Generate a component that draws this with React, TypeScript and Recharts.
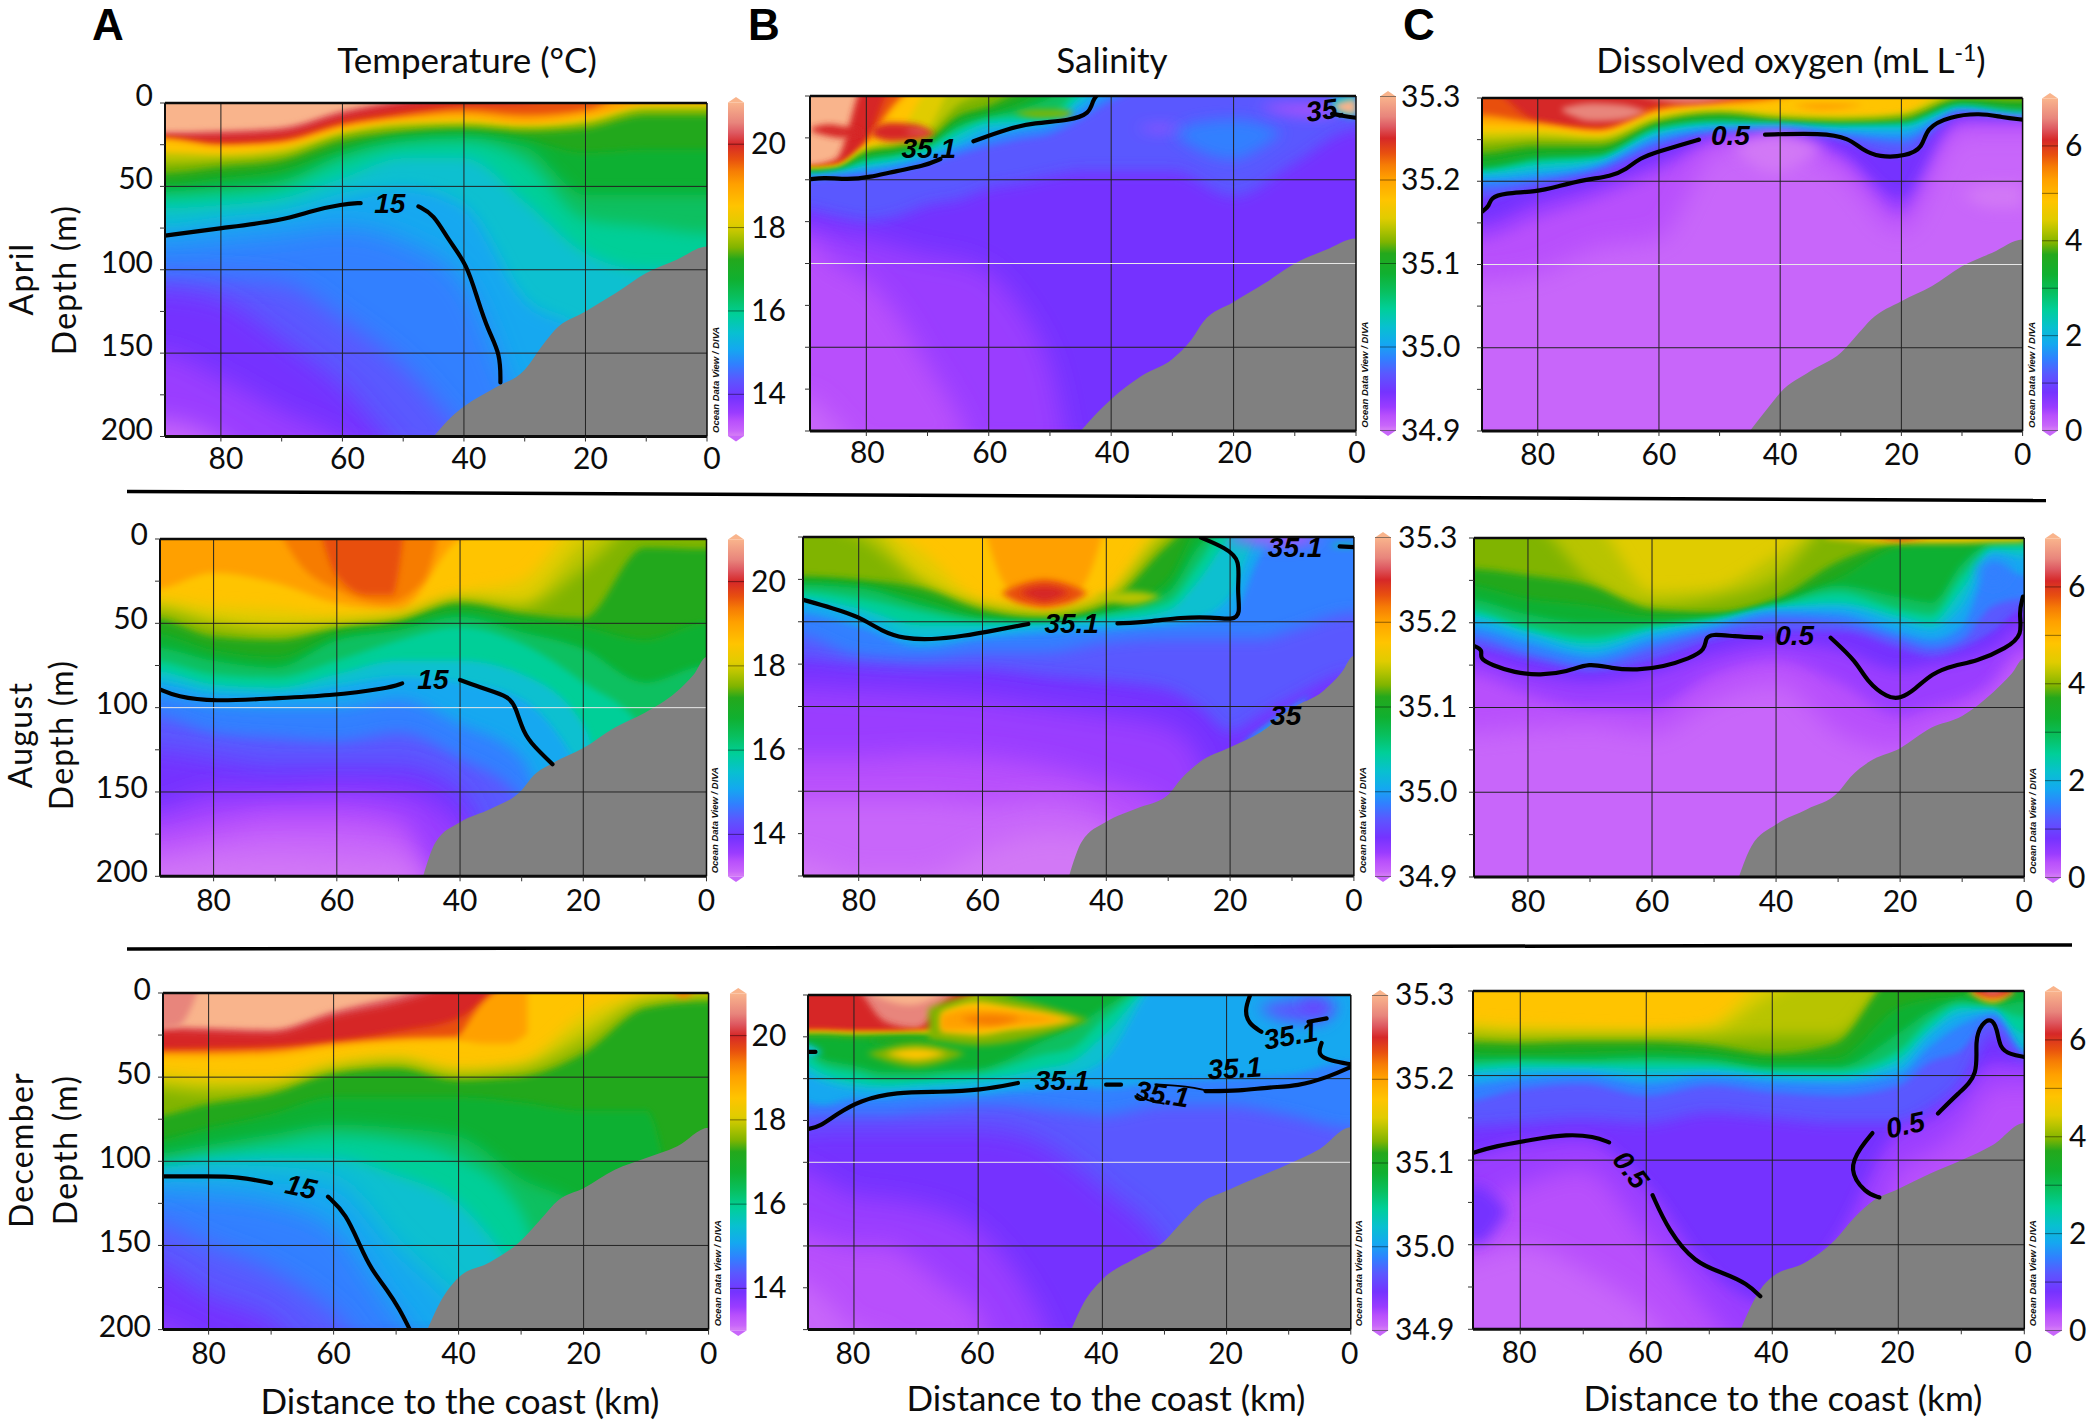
import React from "react";
import { ComposedChart, Area, Line, XAxis, YAxis, ReferenceLine, ReferenceDot } from "recharts";

// ---------- colour scale (shared Ocean Data View palette, warm to cold) ----------
const palette = ["#f9b48c","#e8857c","#de5a62","#d62828","#e8500f","#f67c05","#ffa000","#ffc400","#e0cc00","#b8c400","#80b400","#24a81c","#10b030","#08c060","#00cf98","#08c0d0","#14a8f0","#3080ff","#5a58ff","#7533ff","#9a3cff","#b850fc","#c866fa","#d278f6"];
const barStops = [0,.06,.09,.125,.17,.205,.245,.31,.365,.395,.435,.47,.53,.585,.635,.69,.74,.785,.83,.885,.93,.955,.985,.995];

const km10 = [90,80,70,60,50,40,30,20,10,0];
const km12 = [90,80,70,60,50,40,30,20,15,10,5,0];
const km12b = [90,80,70,60,50,40,30,25,20,15,10,0];
const km15 = [90,85,80,75,70,65,60,55,50,45,40,30,20,10,0];
const xTicks = [80,70,60,50,40,30,20,10,0];
const yTicks = [0,25,50,75,100,125,150,175,200];
const gridKm = [80,60,40,20];
const gridDepth = [50,100,150];

// ---------- isoline depths: [palette index, depth at each distance] ----------
const aprTemp = [
[2,18,17,15,5,-2,-9,-9,-9,-9,-9],[3,19.5,19,17,7,0,-5,-9,-9,-9,-9],[4,21,24.5,22,12,6,1.5,0,-9,-9,-9],
[6,21.5,25.5,23.5,13.5,8,4.5,7,4,-9,-9],[7,22.5,26.5,25,15.5,10.5,8.5,12,8,1,0],[9,30,31,28,18,12.5,11.5,14,11,2.5,2],
[10,36,34.5,31.5,19.5,14.5,13.5,15.5,13,4.5,4.5],[11,42,38.5,34.5,22.5,17.5,15.5,17.5,15.5,7.5,7.5],[12,49,45,40,28,20,18.5,22,30,28,28],
[13,53,50,46,31,23,21,26,55,55,55],[14,56,54,50,34,25,23,35,70,74,78],[15,63,61,57,45,33,33,59,90,100,100],
[16,75,71,67,57,51,62,118,140,230,230],[17,85,82,79,75,83,108,190,230,230,230],[18,104,105,108,130,158,198,230,230,230,230],
[19,112,118,142,170,210,230,230,230,230,230],[20,150,165,185,202,230,230,230,230,230,230],[22,190,202,230,230,230,230,230,230,230,230]];
const augTemp = [
[7,30,20,26,38,42,0,-9,-9,-9,-9],
[8,36,40,42,46,46,32,25,-9,-9,-9],[9,40,48,52,50,47,36,38,3,-9,-9],[10,43,52,56,53,48,37,41,18,-9,-9],
[11,47,58,60,53,49,38,44,47,5,6],[12,56,66,70,56,51,42,48,52,60,50],[13,64,72,76,60,54,46,55,65,85,75],
[14,72,80,82,72,60,52,62,85,115,230],[15,78,86,88,80,72,72,80,110,230,230],[16,84,91,92,87,82,85,95,140,230,230],
[17,92,98,100,100,95,110,130,230,230,230],[18,105,115,118,120,115,130,155,230,230,230],[19,125,130,135,135,135,150,230,230,230,230],
[20,160,150,150,148,150,170,230,230,230,230],[21,172,165,160,160,165,230,230,230,230,230],[22,185,178,172,172,178,230,230,230,230,230],[23,195,190,188,190,192,230,230,230,230,230]];
const decTemp = [
[2,20,21,22,11,2,-9,-9,-9,-9,-9],[3,22,23,24,14,6,-5,-9,-9,-9,-9],[4,34,33,32,29,23,15,-9,-9,-9,-9],
[6,35,35,34,30,27,26,-9,-9,-9,-9],[7,38,38,37,32,29,28,-2,-9,-9,-5],[8,47,50,52,42,38,45,42,12,2,0],
[9,52,55,55,45,41,48,44,22,4,1.5],[10,57,60,57,47,43,50,47,30,6,3],[11,74,66,60,48,45,52,50,36,9,5],
[12,88,80,72,62,62,62,65,70,70,230],[13,96,90,84,78,80,85,110,130,230,230],[14,102,96,90,85,88,98,130,230,230,230],
[15,105,100,98,98,108,125,170,230,230,230],[16,108,107,108,112,150,185,230,230,230,230],[17,118,120,125,140,190,230,230,230,230,230],
[18,135,150,165,190,230,230,230,230,230,230],[19,160,180,195,230,230,230,230,230,230,230],[20,195,210,230,230,230,230,230,230,230,230]];
const aprSal = [
[3,42,38,-9,-9,-9,-9,-9,-9,-9,-9,-9,-9,-9,-9,-9],[4,43,41,27,-9,-9,-9,-9,-9,-9,-9,-9,-9,-9,-9,-9],
[6,43.5,42,28,3,-9,-9,-9,-9,-9,-9,-9,-9,-9,-9,-9],[7,44,42.5,30,6,-9,-9,-9,-9,-9,-9,-9,-9,-9,-9,-9],
[8,44,43,31,24,-3,-9,-9,-9,-9,-9,-9,-9,-9,-9,-9],[9,44.5,43.5,32,28,20,-9,-9,-9,-9,-9,-9,-9,-9,-9,-9],
[10,45,44,33,30,24,5,-2,-9,-9,-9,-9,-9,-9,-9,-9],[11,45.5,44.5,34,31,27,12,6,-3,-9,-9,-9,-9,-9,-9,-9],
[12,46,45,36,33,29,15,10,4,-5,-9,-9,-9,-9,-9,-9],[13,46.5,45,38,35,30,18,12,8,1,-9,-9,-9,-9,-9,-9],
[14,47,45.5,39,36,31,20,14,12,11,-5,-9,-9,-9,-9,-9],[15,47.5,46,41,38,33,23,16,15,15,0,-9,-9,-9,-9,-9],
[16,48,46.5,43,40,35,28,20,18,16,4,-9,-9,-9,-9,-9],[17,48.5,47,45,42,37,31,25,21,18,9,-2,-9,-9,-9,-9],
[18,50,49,47,45,40,35,30,26,23,14,3,-9,-9,-9,-9],[19,68,72,75,72,65,62,55,52,48,45,45,45,60,40,20],
[20,78,82,85,90,95,98,105,125,160,230,230,230,230,230,230],[21,85,100,110,130,160,190,230,230,230,230,230,230,230,230,230],
[22,180,195,215,230,230,230,230,230,230,230,230,230,230,230,230]];
const augSal = [
[8,-9,-9,8,39,44,36,-9,-9,-9,-9,-9,-9],[9,-9,-9,24,41,45,37,-3,-9,-9,-9,-9,-9],
[10,-9,0,28,42,46,38,0,-9,-9,-9,-9,-9],[11,23,25,30,43,48,40,5,-9,-9,-9,-9,-9],[12,26,28,36,47,50,44,25,-5,-9,-9,-9,-9],
[13,28,30,40,48,50,45,32,5,-9,-9,-9,-9],[14,32,36,44,50,51,46,38,15,-9,-9,-9,-9],[15,36,42,52,52,52,49,43,25,0,-9,-9,-9],
[16,38,47,60,56,53,51,49,47,35,-3,-9,-9],[17,45,53,65,60,57,55,52,50,48,10,-5,-9],[18,58,70,72,68,68,62,60,60,60,60,55,45],
[19,72,76,78,78,82,85,90,100,115,105,95,80],[20,88,90,92,95,100,105,112,130,230,230,230,230],[21,130,130,128,130,135,145,160,230,230,230,230,230],
[22,155,155,155,158,155,165,230,230,230,230,230,230],[23,190,200,200,185,175,180,230,230,230,230,230,230]];
const decSal = [
[3,-9,-9,-5,16,20,3,-9,-9,-9,-9,-9,-9,-9,-9,-9],[4,21,21,22,22,21.5,17,-9,-9,-9,-9,-9,-9,-9,-9,-9],
[6,22,22,22.5,22.5,22,19,-2,-9,-9,-9,-9,-9,-9,-9,-9],[7,22.5,22.5,23,23,22.5,21,0,-9,-9,-9,-9,-9,-9,-9,-9],
[9,23.5,23.5,24,24,23.5,23,1,-9,-9,-9,-9,-9,-9,-9,-9],[10,24,24,24.5,24.5,24,24,3,-9,-9,-9,-9,-9,-9,-9,-9],
[11,24.5,24.5,25,25,25,25,6,1,-9,-9,-9,-9,-9,-9,-9],[12,25,25,26,26,26,26,8,3,-5,-9,-9,-9,-9,-9,-9],
[13,27,38,42,46,46,45,44,38,28,20,8,-9,-9,-9,-9],[14,30,42,46,50,50,48,47,42,36,32,15,-9,-9,-9,-9],
[15,38,47,52,54,53,52,50,48,44,40,25,-9,-9,-9,-9],[16,44,52,56,57,56,55,54,52,50,48,40,-9,-9,-9,-9],
[17,62,66,62,62,60,60,60,58,57,55,56,52,50,48,40],[18,72,72,72,72,70,68,66,66,68,70,72,66,66,72,80],
[19,82,80,80,80,80,80,80,82,88,100,115,150,230,230,230],[20,102,110,120,122,125,130,140,160,190,230,230,230,230,230,230],
[21,140,145,150,150,160,175,190,230,230,230,230,230,230,230,230],[22,170,180,200,205,230,230,230,230,230,230,230,230,230,230,230]];
const aprOxy = [
[4,-9,14,18,5,2,-9,-9,-9,-9,-9],[6,10,15,19.5,7,3,0,-9,-9,-9,-9],[7,15,17,21,9,5,1,-9,-9,-9,-9],
[8,20,20,23,10.5,7,9,11,9,-9,-9],[9,23,22,24.5,12,8,11,12,10,-5,-9],[10,27,25,26,13.5,9,12,13,11,-2,-9],
[11,33,29,29,15,10,14,15,13,1,2],[12,38,33,32,16.5,12,15,17,16,3,5],[14,43,37,35,18,14,15.5,16.5,15.5,4,8],
[15,45,40,37,20,16,16,17.5,17,6,9.5],[16,47,44,39,22,17,17,19,19,7,11],[17,50,47,41,24,19,18,21,23,8,12],
[18,54,50,43,27,21,20,23,27,9,13],[19,60,54,46,31,22.5,21.5,26,35,10.5,14],[20,75,62,52,38,25,24,33,60,14,15.5],
[21,85,72,60,45,27,25.5,38,70,17,17],[22,110,105,90,85,30,28,45,80,20,20]];
const augOxy = [
[9,-9,-9,-9,32,30,10,-9,-9,-9,-9,-9,-9],[10,-9,-9,25,40,36,24,-9,-9,-9,-9,-9,-9],[11,18,22,28,42,44,36,14,3,2,2,1,1],
[12,28,36,40,46,46,38,24,5,4,4,2,2],[13,36,45,50,50,47,39,28,35,38,15,3,3],[14,42,52,58,52,48,40,32,42,45,22,5,4],
[15,45,55,62,54,49,41,38,46,50,30,7,7],[16,48,57,66,56,50,42,41,50,54,40,9,12],[17,53,62,70,60,52,44,45,56,60,52,15,22],
[18,58,68,75,65,55,48,50,60,65,60,40,36],[19,64,72,79,72,60,55,55,65,70,65,55,42],[20,70,80,85,80,68,62,66,78,75,72,65,52],
[21,80,92,100,100,80,72,85,105,100,95,85,65],[22,115,112,110,115,95,85,115,125,115,110,100,75]];
const decOxy = [
[8,19,21,23,24,20,-9,-9,-9,-9,-9,-9,-9],[9,23,26,26,26,24,2,-9,-9,-9,-9,-9,-9],[10,27,28,28,28,28,26,26,-9,-9,-9,-9,-9],
[11,30,31,30,30,32,37,31,-9,-9,-9,-9,-9],[12,36,37,36,35,37,41,40,10,5,3,-9,-9],[13,40,40,40,39,40,45,45,25,12,5,9,6],
[14,44,42,43,42,43,47,47,35,17,8,10,15],[15,47,45,45,46,46,49,50,40,22,10,11,25],[16,50,48,47,50,48,51,52,45,26,14,12,34],
[17,56,52,50,55,51,54,55,50,33,20,14,37],[18,66,58,55,62,56,60,62,56,42,35,16,39],[19,80,78,76,78,72,75,78,78,70,55,25,41],
[20,98,90,87,115,165,185,148,82,75,62,42,44],[21,130,115,105,145,190,230,230,105,95,80,55,55],[22,160,150,165,190,230,230,230,230,230,230,230,230]];

// ---------- isolated patches: [palette index, distances, upper depths, lower depths] ----------
const augTempBlobs = [[5,[70,66,60,52,46,43],[-9,-9,-9,-9,-9,-9],[-9,15,30,38,25,-9]],[4,[63,60,55,51,49],[-9,-9,-9,-9,-9],[-9,22,33,33,-9]]];
const aprSalBlobs = [
[3,[89,86,84,81],[19,17,18,20],[21,24,25,23]],[3,[79,76,72,69],[19,16,17,22],[24,27,26,23]],[1,[74,71.5,69.5],[21,20.5,21],[21,22,21]],
[10,[56,52,48,46],[10,8,8,10],[10,13,13,10]],[17,[30,26,20,16,12],[22,16,14,16,22],[22,32,38,32,22]],[21,[36,32,28],[19,18,19],[19,21,19]],
[21,[16,12,6,3],[6,5,5,6],[6,10,12,9]],[15,[4,3,0],[1,0,-2],[7,11,13]],[0,[3.5,2,0],[5,3,2],[7,10,11]]];
const augSalBlobs = [
[6,[60,56,50,44,40],[-9,-9,-9,-9,-9],[-9,30,42,30,-9]],
[4,[57,54,50,46,43],[33,28,25,28,33],[33,39,41,39,33]],[3,[54,52,50,48,46],[33,30,29,30,33],[33,36,38,36,33]],
[9,[42,36,31],[35,32,35],[35,40,35]],[21,[21,16,10,5],[0,-3,-3,0],[0,4,5,0]],[14,[4,2,0],[5,4,4],[5,6,6]],[16,[18,13,9,7],[122,108,98,93],[122,116,102,93]]];
const decSalBlobs = [
[0,[77,71,66],[-3,-3,-3],[0,6,0]],[11,[78,72,66],[27,25,27],[27,30,27]],[10,[78,70,62],[35,29,35],[35,43,35]],[7,[75,70,65],[35,32,35],[35,39,35]],
[10,[68,60,52,42],[8,0,4,15],[26,30,26,15]],[7,[66,60,55,50,44],[10,4,7,10,15],[22,24,21,19,15]],[6,[66,61,56,50,46],[12,8,9,12,15],[21,21,19,17,15]],[5,[63,58,53],[14,12,14],[14,18,14]],
[15,[90,88,85],[34,29,34],[34,38,34]],[18,[15,10,5,2],[8,3,3,7],[8,16,17,7]],[19,[9,6,3],[5,3,5],[5,9,5]]];
const decTempBlobs = [[1,[95,90,85,81],[-9,-9,-9,-9],[22,22,20,-9]],[6,[40,36,32,29],[27,5,-3,-3],[27,30,30,24]],[5,[6,4,2],[-3,-3,-3],[-3,3,-3]]];
const aprOxyBlobs = [[1,[76,71,66,62],[6,3,4,8],[8,14,13,8]],[1,[66,55,44],[-4,-4,-4],[-4,3,-4]],[6,[38,33,26],[4,3,4],[4,7,4]],[23,[48,41,33],[30,22,30],[30,45,30]],[23,[10,5,0],[58,52,52],[58,66,66]]];
const augOxyBlobs = [[7,[32,20,0],[-2,-2,-2],[0,3,2]],[3,[25,20,15],[-2,-2,-2],[-2,1,-2]],[17,[8,5,2],[18,14,18],[18,28,18]]];
const decOxyBlobs = [[7,[9,5,1.5],[0,-3,0],[0,7,0]],[3,[8,5,2],[-2,-3,-2],[1,4,1]],[1,[6.5,5,3.5],[-2,-3,-2],[0,1.5,0]],[19,[92,87,82],[130,115,130],[130,150,130]]];

// ---------- sea floor ----------
const floorA = [45,42,40,35,30,27,25,20,15,10,5,0];
const floorB = [46,44,40,35,30,28,25,20,15,10,5,2,0];
const floorC = [45,43,40,35,30,27,24,20,15,10,5,0];
const floorD = [45,42,40,35,30,27,24,20,15,10,5,0];
const aprTempFloor = [200,188,182,171,160,145,136,125,114,102,94,86];
const aprSalFloor = [200,188,181,167,157,146,135,123,112,100,92,85];
const aprOxyFloor = [200,186,177,164,153,141,133,122,113,101,93,85];
const augTempFloor = [200,180,168,160,149,140,133,124,112,103,91,80,70];
const augSalFloor = [200,180,168,160,152,143,133,124,115,101,91,80,70];
const augOxyFloor = [200,182,169,160,150,141,132,124,112,105,91,80,71];
const decTempFloor = [200,184,169,160,147,135,123,116,105,98,91,80];
const decSalFloor = [200,184,170,158,147,135,124,117,109,101,92,79];
const decOxyFloor = [200,177,169,161,147,134,124,117,108,100,91,78];

// ---------- contour segments: [distance, depth] ----------
const aprTempC = [[[89.2,79.6],[80,75],[70,70.6],[65,64.6],[60,60.6],[57,60]],[[47.5,62],[45,66.6],[42.5,82.6],[39.5,96.6],[37.7,118.6],[36,136.6],[34,150.6],[34,167.6]]];
const augTempC = [[[88.8,89],[86,93.5],[80,96.4],[70.6,94.5],[61.2,93],[51.7,88.5],[49.4,85.6]],[[40,83.6],[36,89],[32,93.5],[31,99.4],[29.7,115],[28,123],[25,133.6]]];
const decTempC = [[[87.3,109],[80,109],[75.4,109],[70,113]],[[60.9,121],[58,131],[55.7,151],[54,164],[51.4,176.6],[49.5,187.5],[47.8,200]]];
const aprSalC = [[[89,49.6],[87,48.6],[83,50],[79.5,48.6],[75,44.6],[70.7,42],[67.9,37.6]],[[62.5,27],[57,19.6],[52.6,16],[46.7,14.6],[43.5,10.6],[43,2.6],[42.4,0]],[[3.9,10.6],[2,12],[0,13]]];
const augSalC = [[[89,37],[84.2,42],[79.9,47],[76.3,55.6],[72.7,60],[68.3,60.6],[63.3,58.6],[57.5,54.7],[52.6,51.3]],[[38.2,51],[33,50],[28,47.4],[22.9,47.2],[19.6,49],[18.3,45.8],[18.9,31],[18.3,13.4],[20.7,6.5],[24.7,0.4]],[[2.3,5.5],[0,6]]];
const decSalC = [[[87.4,80],[85.6,79],[82.7,71],[79,63],[73.3,58],[66,58],[59.7,57],[53.6,52.6]],[[39.4,53.6],[37,53.6]],[[23.4,57.4],[18,57.4],[13,55],[8.6,54.6],[3.6,49],[0,43]],[[16.2,0],[17.1,9],[16.5,17],[14.4,22]],[[6.8,16],[3.9,14]],[[4.7,28.7],[5.4,36],[3.2,39.4],[0,41.4]],[[87.3,34],[86.2,34]]];
const decSalThin = [[[31.6,53.4],[26.2,54.6],[23.4,57]],[[34.5,59],[33,63],[30,65]]];
const aprOxyC = [[[89.1,68],[88,65],[87.8,60],[85.6,57],[80.2,56.4],[76.6,53],[72.2,49],[67.9,47],[65.4,43],[63.2,36],[59.9,32],[56.3,28],[53.4,25]],[[42.5,22],[33,21],[28.7,24],[26.5,31],[23.7,35.6],[19.3,35],[16.4,30],[16,18],[12,11],[7,9],[3.4,11.6],[0,13]]];
const augOxyC = [[[88.8,63.5],[87.2,66],[87.9,71],[85.8,75],[82.2,79.5],[78,81],[73.7,79],[70.1,73.5],[66.6,77],[62.4,78],[58.2,76],[53.9,71],[51.4,66],[51.4,59],[50.4,56.6],[46.8,58],[42.4,58.8]],[[31.2,58.8],[27,73],[25.5,84],[22,94.6],[19.9,94.6],[17.7,89.7],[14.9,79.8],[11.3,75],[7.8,73],[2.8,65],[0.2,57],[0.9,44.4],[0.2,34.6]]];
const decOxyC = [[[87.5,95.7],[84,91.7],[78,87.8],[72.5,84.6],[68.3,86],[65.9,89.5]],[[59,120.7],[56.5,141.4],[52.3,161],[47.5,167],[44,173],[41.9,180.5]],[[23,122],[25.2,119.7],[28,105.5],[25.9,92],[24.1,84]],[[13.7,72.4],[10.5,60.5],[7.2,49.7],[7.9,29],[6.7,19],[5.3,16],[4.3,22],[3.9,34],[2.2,37.5],[0,39]]];

// ---------- contour labels: [text, distance, depth, rotation] ----------
const aprTempL = [["15",52.2,60,0]];
const augTempL = [["15",44.4,83,0]];
const decTempL = [["15",65.2,115,12]];
const aprSalL = [["35.1",69.8,31,0],["35.",5,8,-8]];
const augSalL = [["35.1",45.6,51,0],["35.1",9.5,6,0],["35",11,105,0]];
const decSalL = [["35.1",46.5,51,0],["35.1",30.4,59,8],["35.1",18.7,43.6,-3],["35.1",9.7,24,-10]];
const aprOxyL = [["0.5",48.2,22,0]];
const augOxyL = [["0.5",37,57,0]];
const decOxyL = [["0.5",62.4,105.5,52],["0.5",18.9,79,-12]];

// ---------- panel and colour bar frames ----------
const tempTicks = [14,16,18,20];
const salTicks = [34.9,35,35.1,35.2,35.3];
const oxyTicks = [0,2,4,6];
const oxyMinor = [0,1,2,3,4,5,6];

const panels = [
 {box:[165,707,102.5,436],dom:89.2,km:km10,base:0,layers:aprTemp,blobs:[],fk:floorA,fd:aprTempFloor,cs:aprTempC,thin:[],ls:aprTempL,white:false,bar:[728,744,102.5,436],range:[13,21],ticks:tempTicks,minor:tempTicks,ldx:7,labels:true,bl:[13,17],wide:false,xdx:5,xdy:0,ydy:-1},
 {box:[810,1356,95.7,430.7],dom:89.2,km:km15,base:0,layers:aprSal,blobs:aprSalBlobs,fk:floorA,fd:aprSalFloor,cs:aprSalC,thin:[],ls:aprSalL,white:true,bar:[1380,1396,96,430],range:[34.9,35.3],ticks:salTicks,minor:salTicks,ldx:5,labels:false,bl:[19,20],wide:false,xdx:1,xdy:0,ydy:0},
 {box:[1482,2022.6,98,431],dom:89.2,km:km10,base:3,layers:aprOxy,blobs:aprOxyBlobs,fk:floorA,fd:aprOxyFloor,cs:aprOxyC,thin:[],ls:aprOxyL,white:true,bar:[2042,2058,98,430],range:[0,7],ticks:oxyTicks,minor:oxyMinor,ldx:7,labels:false,bl:[20,22],wide:false,xdx:0,xdy:2,ydy:0},
 {box:[159.5,706,539,876.3],dom:88.7,km:km10,base:6,layers:augTemp,blobs:augTempBlobs,fk:floorB,fd:augTempFloor,cs:augTempC,thin:[],ls:augTempL,white:true,bar:[727.6,743.6,539,876],range:[13,21],ticks:tempTicks,minor:tempTicks,ldx:7,labels:true,bl:[17,19],wide:true,xdx:0,xdy:3,ydy:2},
 {box:[802.8,1353.7,537.3,876.3],dom:89,km:km12b,base:7,layers:augSal,blobs:augSalBlobs,fk:floorB,fd:augSalFloor,cs:augSalC,thin:[],ls:augSalL,white:false,bar:[1375,1391,537,876],range:[34.9,35.3],ticks:salTicks,minor:salTicks,ldx:7,labels:false,bl:[18,20],wide:true,xdx:0,xdy:3,ydy:0},
 {box:[1473.8,2024,538,877],dom:88.7,km:km12,base:8,layers:augOxy,blobs:augOxyBlobs,fk:floorB,fd:augOxyFloor,cs:augOxyC,thin:[],ls:augOxyL,white:false,bar:[2045,2061,538,877],range:[0,7],ticks:oxyTicks,minor:oxyMinor,ldx:7,labels:false,bl:[20,22],wide:true,xdx:0,xdy:3,ydy:0},
 {box:[163.4,709,992.7,1329.3],dom:87.3,km:km10,base:0,layers:decTemp,blobs:decTempBlobs,fk:floorC,fd:decTempFloor,cs:decTempC,thin:[],ls:decTempL,white:false,bar:[729.5,746,993,1330],range:[13,21],ticks:tempTicks,minor:tempTicks,ldx:5,labels:true,bl:[13,16],wide:true,xdx:0,xdy:2,ydy:3},
 {box:[807.7,1350.5,994.7,1329.3],dom:87.4,km:km15,base:1,layers:decSal,blobs:decSalBlobs,fk:floorC,fd:decSalFloor,cs:decSalC,thin:decSalThin,ls:decSalL,white:true,bar:[1371.5,1387.6,995,1330],range:[34.9,35.3],ticks:salTicks,minor:salTicks,ldx:7,labels:false,bl:[18,19],wide:false,xdx:-1,xdy:2,ydy:0},
 {box:[1473,2024.3,991,1329.3],dom:87.5,km:km12,base:7,layers:decOxy,blobs:decOxyBlobs,fk:floorD,fd:decOxyFloor,cs:decOxyC,thin:[],ls:decOxyL,white:false,bar:[2045,2062,991,1330],range:[0,7],ticks:oxyTicks,minor:oxyMinor,ldx:7,labels:false,bl:[19,21],wide:true,xdx:-1,xdy:2,ydy:0},
];

const FONT = "Lato, 'Open Sans', sans-serif";
const ARIAL = "'Liberation Sans', Arial, sans-serif";
const INK = "#0c0c0c";
const YW = 110, TOPM = 30, RM = 26, XH = 60;

function Section({ p }: any) {
  const [l, r, t, b] = p.box;
  const w = r - l, h = b - t;
  const lastKm = p.km.length - 1;
  const blurFor = (idx: number) => idx >= p.bl[1] ? "url(#heavy)" : idx >= p.bl[0] ? "url(#medium)" : p.wide && idx >= 8 && idx <= 10 ? "url(#medium)" : "url(#soft)";
  const rows = (d: number[]) => [
    { km: 100, v: [d[0], 212] },
    ...p.km.map((k: number, i: number) => ({ km: k, v: [d[i], 212] })),
    { km: -10, v: [d[lastKm], 212] },
  ];
  const baseRows = [{ km: 100, v: [-20, 212] }, { km: -10, v: [-20, 212] }];
  const floorRows = [
    ...p.fk.map((k: number, i: number) => ({ km: k, v: [p.fd[i], 212] })),
    { km: -10, v: [p.fd[p.fd.length - 1], 212] },
  ];
  return (
    <div style={{ position: "absolute", left: l - YW, top: t - TOPM }}>
      <ComposedChart width={YW + w + RM} height={TOPM + h + XH} margin={{ top: TOPM, right: RM, left: 0, bottom: 0 }}>
        <XAxis type="number" dataKey="km" domain={[0, p.dom]} reversed allowDataOverflow ticks={xTicks} interval={0} height={XH}
          axisLine={{ stroke: INK, strokeWidth: 3 }} tickLine={{ stroke: "#333", strokeWidth: 1 }} tickSize={5}
          tick={(q: any) => q.payload.value % 20 === 0 ? (
            <text x={q.x + p.xdx} y={h + TOPM + 32 + p.xdy} textAnchor="middle" fontFamily={FONT} fontSize={30} fill={INK}>{q.payload.value}</text>
          ) : <g />} />
        <YAxis type="number" domain={[0, 200]} reversed allowDataOverflow ticks={yTicks} interval={0} width={YW}
          axisLine={{ stroke: INK, strokeWidth: 2 }} tickLine={{ stroke: "#333", strokeWidth: 1 }} tickSize={5}
          tick={(q: any) => p.labels && q.payload.value % 50 === 0 ? (
            <text x={YW - 12} y={q.y + 4 + p.ydy} textAnchor="end" fontFamily={FONT} fontSize={30} fill={INK}>{q.payload.value}</text>
          ) : <g />} />
        <Area data={baseRows} dataKey="v" type="linear" fill={palette[p.base]} fillOpacity={1} stroke="none" dot={false} activeDot={false} isAnimationActive={false} />
        {p.layers.map((row: number[], i: number) => (
          <Area key={"l" + i} data={rows(row.slice(1))} dataKey="v" type="monotone" fill={palette[row[0]]} fillOpacity={1} stroke="none" dot={false} activeDot={false} isAnimationActive={false} style={{ filter: blurFor(row[0]) }} />
        ))}
        {p.blobs.map((bl: any, i: number) => (
          <Area key={"b" + i} data={bl[1].map((k: number, j: number) => ({ km: k, v: [bl[2][j], bl[3][j]] }))} dataKey="v" type="monotone" fill={palette[bl[0]]} fillOpacity={1} stroke="none" dot={false} activeDot={false} isAnimationActive={false} style={{ filter: bl[0] >= 17 ? "url(#medium)" : "url(#soft)" }} />
        ))}
        {p.ls.map((lb: any, i: number) => (
          <ReferenceDot key={"t" + i} x={lb[1]} y={lb[2]} r={0} ifOverflow="visible" shape={(q: any) => (
            <text x={q.cx} y={q.cy + 10} textAnchor="middle" transform={`rotate(${lb[3]} ${q.cx} ${q.cy})`} fontFamily={ARIAL} fontWeight="bold" fontStyle="italic" fontSize={28} fill="#000">{lb[0]}</text>
          )} />
        ))}
        <Area data={floorRows} dataKey="v" type="monotone" fill="#808080" fillOpacity={1} stroke="none" dot={false} activeDot={false} isAnimationActive={false} />
        {gridKm.map((k) => <ReferenceLine key={"gx" + k} x={k} stroke="#222" strokeWidth={1} />)}
        {gridDepth.map((d) => <ReferenceLine key={"gy" + d} y={d} stroke={d === 100 && p.white ? "#e8e8e8" : "#222"} strokeWidth={1} />)}
        <ReferenceLine y={0} stroke={INK} strokeWidth={2.5} />
        <ReferenceLine x={0} stroke={INK} strokeWidth={1.5} />
        {p.cs.map((seg: number[][], i: number) => (
          <Line key={"c" + i} data={seg.map((s) => ({ km: s[0], d: s[1] }))} dataKey="d" type="basis" stroke="#000" strokeWidth={4.2} strokeLinecap="round" dot={false} activeDot={false} isAnimationActive={false} />
        ))}
        {p.thin.map((seg: number[][], i: number) => (
          <Line key={"f" + i} data={seg.map((s) => ({ km: s[0], d: s[1] }))} dataKey="d" type="basis" stroke="#000" strokeWidth={1.8} dot={false} activeDot={false} isAnimationActive={false} />
        ))}
      </ComposedChart>
    </div>
  );
}

function ColourBar({ p }: any) {
  const [l, r, t, b] = p.bar;
  const [lo, hi] = p.range;
  const tip = 5.5;
  const pad = 26;
  const perPx = (hi - lo) / (b - t);
  const d = tip * perPx;
  const W = 90;
  const flat = [{ x: 0, v: [lo, hi] }, { x: 1, v: [lo, hi] }];
  const top = [{ x: 0, v: [hi, hi] }, { x: 0.5, v: [hi, hi + d] }, { x: 1, v: [hi, hi] }];
  const bot = [{ x: 0, v: [lo, lo] }, { x: 0.5, v: [lo - d, lo] }, { x: 1, v: [lo, lo] }];
  return (
    <div style={{ position: "absolute", left: l, top: t - tip - pad }}>
      <ComposedChart width={r - l + W} height={b - t + 2 * tip + 2 * pad} margin={{ top: pad, right: 0, left: 0, bottom: pad }}>
        <XAxis type="number" dataKey="x" domain={[0, 1]} hide />
        <YAxis type="number" orientation="right" domain={[lo - d, hi + d]} ticks={p.ticks} interval={0} width={W} axisLine={false} tickLine={false}
          tick={(q: any) => (
            <text x={r - l + p.ldx} y={q.y + 10} textAnchor="start" fontFamily={FONT} fontSize={30} fill={INK}>{lo > 30 ? q.payload.value.toFixed(1) : q.payload.value}</text>
          )} />
        <Area data={flat} dataKey="v" type="linear" fill="url(#cbar)" fillOpacity={1} stroke="none" dot={false} activeDot={false} isAnimationActive={false} />
        <Area data={top} dataKey="v" type="linear" fill={palette[0]} fillOpacity={1} stroke="none" dot={false} activeDot={false} isAnimationActive={false} />
        <Area data={bot} dataKey="v" type="linear" fill={palette[22]} fillOpacity={1} stroke="none" dot={false} activeDot={false} isAnimationActive={false} />
        {p.minor.map((m: number) => <ReferenceLine key={m} y={m} stroke="rgba(0,0,0,0.45)" strokeWidth={1} />)}
      </ComposedChart>
    </div>
  );
}

const t = { fontFamily: FONT, fill: INK };
const rowLabels = [["April",33,279],["Depth (m)",76,280],["August",32,735],["Depth (m)",73,735],["December",33,1150],["Depth (m)",77,1150]];
const blurLevels = [["soft",3],["medium",7],["heavy",12]];

export default function App() {
  return (
    <div style={{ position: "absolute", left: 0, top: 0, width: 2089, height: 1424, background: "#fff", overflow: "hidden" }}>
      <svg width={0} height={0} style={{ position: "absolute" }}>
        <defs>
          {blurLevels.map((f: any) => (
            <filter key={f[0]} id={f[0]} filterUnits="userSpaceOnUse" x={-100} y={-100} width={1000} height={700}>
              <feGaussianBlur stdDeviation={f[1]} />
            </filter>
          ))}
          <linearGradient id="cbar" x1="0" y1="0" x2="0" y2="1">
            {palette.map((c, i) => <stop key={i} offset={barStops[i]} stopColor={c} />)}
          </linearGradient>
        </defs>
      </svg>
      {panels.map((p, i) => <Section key={i} p={p} />)}
      {panels.map((p, i) => <ColourBar key={i} p={p} />)}
      <svg width={2089} height={1424} style={{ position: "absolute", left: 0, top: 0, pointerEvents: "none" }}>
        <text x={92} y={40} fontFamily={ARIAL} fontWeight="bold" fontSize={44} fill="#000">A</text>
        <text x={748} y={40} fontFamily={ARIAL} fontWeight="bold" fontSize={44} fill="#000">B</text>
        <text x={1403} y={40} fontFamily={ARIAL} fontWeight="bold" fontSize={44} fill="#000">C</text>
        <text x={467} y={73} textAnchor="middle" fontSize={35} {...t}>Temperature (°C)</text>
        <text x={1112} y={73} textAnchor="middle" fontSize={35} {...t}>Salinity</text>
        <text x={1791} y={73} textAnchor="middle" fontSize={35} {...t}>Dissolved oxygen (mL L<tspan dy={-12} fontSize={23}>-1</tspan><tspan dy={12}>)</tspan></text>
        {rowLabels.map((a: any, i) => (
          <text key={i} x={a[1]} y={a[2]} transform={`rotate(-90 ${a[1]} ${a[2]})`} textAnchor="middle" fontSize={32} letterSpacing={1.3} {...t}>{a[0]}</text>
        ))}
        {[[460,1414],[1106,1411],[1783,1411]].map((a, i) => (
          <text key={i} x={a[0]} y={a[1]} textAnchor="middle" fontSize={35} {...t}>Distance to the coast (km)</text>
        ))}
        {panels.map((p, i) => (
          <text key={i} x={p.box[1] + 12} y={p.box[3] - 3} transform={`rotate(-90 ${p.box[1] + 12} ${p.box[3] - 3})`} fontFamily={ARIAL} fontWeight="bold" fontStyle="italic" fontSize={9.5} fill="#111">Ocean Data View / DIVA</text>
        ))}
        <line x1={127} y1={491.5} x2={2046} y2={500.5} stroke="#000" strokeWidth={3.5} />
        <line x1={127} y1={949} x2={2072} y2={945} stroke="#000" strokeWidth={3.5} />
      </svg>
    </div>
  );
}
